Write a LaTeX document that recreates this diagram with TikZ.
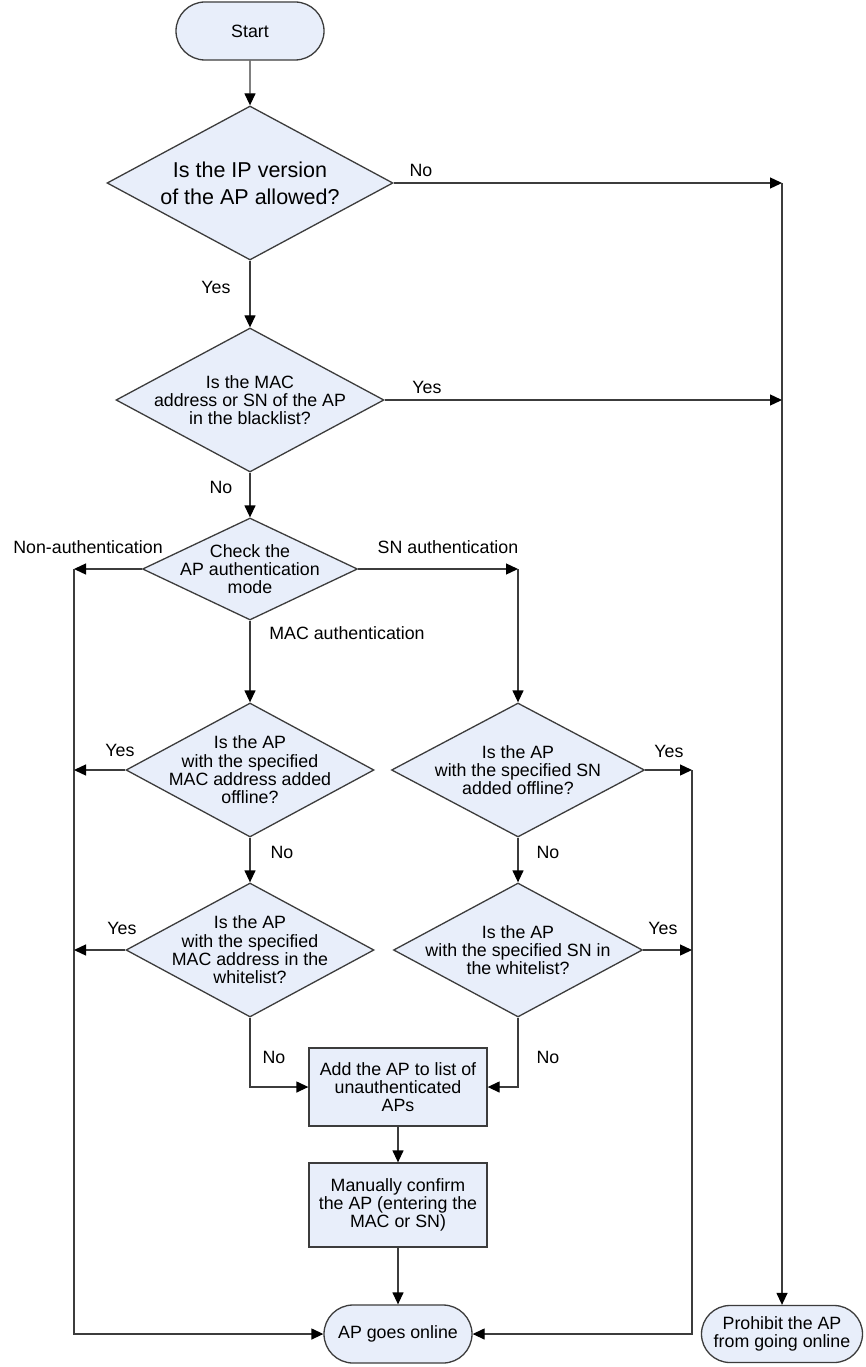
\documentclass[tikz,border=0pt]{standalone}
\usepackage{fontspec}
\setmainfont{Liberation Sans}
\usetikzlibrary{shapes.geometric,shapes.misc,arrows.meta}
\definecolor{boxfill}{RGB}{232,238,250}
\definecolor{linec}{RGB}{60,60,60}
\begin{document}
\begin{tikzpicture}[x=1pt,y=-1pt,
  font=\fontsize{17.8}{18.3}\selectfont,
  base/.style={draw=linec, line width=1.3pt, fill=boxfill},
  term/.style={base, rounded rectangle, inner sep=0pt},
  dia/.style={base, diamond, inner sep=0pt},
  proc/.style={base, rectangle, inner sep=0pt},
  txt/.style={align=center, inner sep=0pt},
  bigtxt/.style={txt, font=\fontsize{21.5}{26.7}\selectfont},
  lbl/.style={inner sep=0pt},
  line/.style={draw=linec, line width=1.3pt},
  arr/.style={line, -{Triangle[length=12pt,width=11pt,black]}}]
\useasboundingbox (0,0) rectangle (865,1367);
\fill[white] (0,0) rectangle (865,1367);

% nodes
\node[term, minimum width=148pt, minimum height=58pt] (start) at (250,31) {Start};

\node[dia, minimum width=286pt, minimum height=154pt] (d1) at (250,183) {};
\node[bigtxt] (d1t) at (250,183) {Is the IP version\\of the AP allowed?};

\node[dia, minimum width=268pt, minimum height=144pt] (d2) at (250,400) {};
\node[txt] (d2t) at (250,400) {Is the MAC\\address or SN of the AP\\in the blacklist?};

\node[dia, minimum width=215pt, minimum height=102pt] (d3) at (250,569) {};
\node[txt] (d3t) at (250,569) {Check the\\AP authentication\\mode};

\node[dia, minimum width=248pt, minimum height=134pt] (d4) at (250,770) {};
\node[txt] (d4t) at (250,770) {Is the AP\\with the specified\\MAC address added\\offline?};

\node[dia, minimum width=253pt, minimum height=134pt] (d5) at (518,770) {};
\node[txt] (d5t) at (518,770) {Is the AP\\with the specified SN\\added offline?};

\node[dia, minimum width=248pt, minimum height=134pt] (d6) at (250,950) {};
\node[txt] (d6t) at (250,950) {Is the AP\\with the specified\\MAC address in the\\whitelist?};

\node[dia, minimum width=249pt, minimum height=134pt] (d7) at (518,950) {};
\node[txt] (d7t) at (518,950) {Is the AP\\with the specified SN in\\the whitelist?};

\node[proc, minimum width=178pt, minimum height=78pt] (box1) at (398,1087) {};
\node[txt] (box1t) at (398,1087) {Add the AP to list of\\unauthenticated\\APs};

\node[proc, minimum width=178pt, minimum height=84pt] (box2) at (398,1205) {};
\node[txt] (box2t) at (398,1205) {Manually confirm\\the AP (entering the\\MAC or SN)};

\node[term, minimum width=148pt, minimum height=58pt] (online) at (398,1334) {AP goes online};
\node[term, minimum width=161pt, minimum height=57pt, align=center] (prohibit) at (782,1334) {Prohibit the AP\\from going online};

% junction coordinates
\coordinate (c1) at (782,183);
\coordinate (nl) at (74,569);
\coordinate (nlb) at (74,1334);
\coordinate (nr) at (692,770);
\coordinate (nrb) at (692,1334);
\coordinate (sn) at (518,569);

% connectors
\draw[arr] (start) -- (d1);
\draw[arr] (d1.east) -- (c1);
\draw[arr] (c1) -- (prohibit.north);
\draw[arr] (d1) -- (d2);
\draw[arr] (d2.east) -- (d2.east -| c1);
\draw[arr] (d2) -- (d3);
\draw[arr] (d3.west) -- (nl);
\draw[arr] (nl) -- (nlb) -- (online.west);
\draw[arr] (d3.east) -- (sn);
\draw[arr] (sn) -- (d5.north);
\draw[arr] (d3) -- (d4);
\draw[arr] (d4.west) -- (d4.west -| nl);
\draw[arr] (d4) -- (d6);
\draw[arr] (d6.west) -- (d6.west -| nl);
\draw[arr] (d6.south) |- (box1.west);
\draw[arr] (d5.east) -- (nr);
\draw[arr] (nr) -- (nrb) -- (online.east);
\draw[arr] (d5) -- (d7);
\draw[arr] (d7.east) -- (d7.east -| nr);
\draw[arr] (d7.south) |- (box1.east);
\draw[arr] (box1) -- (box2);
\draw[arr] (box2) -- (online);

% labels
\node[lbl] (l1) at (421,170) {No};
\node[lbl] (l2) at (216,287) {Yes};
\node[lbl] (l3) at (427,387) {Yes};
\node[lbl] (l4) at (221,487) {No};
\node[lbl] (l5) at (88,547) {Non-authentication};
\node[lbl] (l6) at (448,547) {SN authentication};
\node[lbl] (l7) at (347,633) {MAC authentication};
\node[lbl] (l8) at (120,750) {Yes};
\node[lbl] (l9) at (669,751) {Yes};
\node[lbl] (l10) at (282,852) {No};
\node[lbl] (l11) at (548,852) {No};
\node[lbl] (l12) at (122,928) {Yes};
\node[lbl] (l13) at (663,928) {Yes};
\node[lbl] (l14) at (274,1057) {No};
\node[lbl] (l15) at (548,1057) {No};
\end{tikzpicture}
\end{document}
